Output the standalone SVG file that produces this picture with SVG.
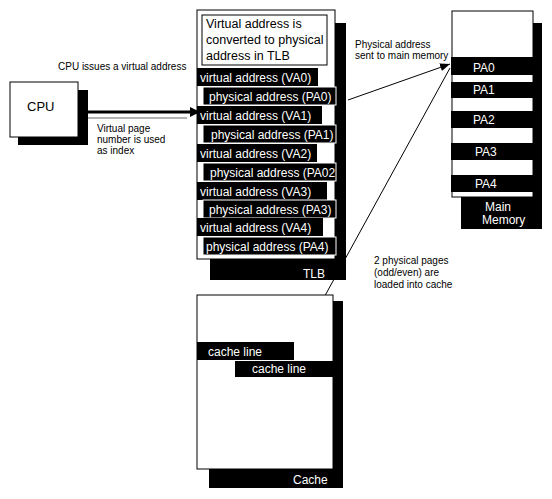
<svg xmlns="http://www.w3.org/2000/svg" width="552" height="499" viewBox="0 0 552 499">
<style>
text{font-family:"Liberation Sans",Arial,Helvetica,sans-serif;}
.shadow{fill:#000;}
.box{fill:#fff;stroke:#000;stroke-width:1;}
.va{fill:#000;}
.pa{fill:#000;stroke:#fff;stroke-width:1;}
.wt{fill:#fff;font-size:12px;}
.lbl{fill:#000;font-size:10px;}
.conn{stroke:#000;stroke-width:1;fill:none;}
</style>
<defs>
<marker id="ah" viewBox="0 0 10 10" refX="10" refY="5" markerWidth="10" markerHeight="10" markerUnits="userSpaceOnUse" orient="auto">
<path d="M0,1 L10,5 L0,9 z" fill="#000"/>
</marker>
<marker id="ahb" viewBox="0 0 10 10" refX="10" refY="5" markerWidth="13" markerHeight="10" markerUnits="userSpaceOnUse" orient="auto">
<path d="M0,0 L10,5 L0,10 z" fill="#000"/>
</marker>
</defs>
<rect width="552" height="499" fill="#fff"/>

<g id="connectors">
<line x1="67" y1="118" x2="187" y2="118" stroke="#b4b4b4" stroke-width="2"/>
<line x1="67" y1="112" x2="200" y2="112" stroke="#000" stroke-width="3" marker-end="url(#ahb)"/>
<line class="conn" x1="348" y1="100" x2="450" y2="64" marker-end="url(#ah)"/>
<line class="conn" x1="450" y1="68" x2="299" y2="343" marker-end="url(#ah)"/>
</g>

<g id="cpu">
<rect class="shadow" x="18" y="90" width="70" height="55"/>
<rect class="box" x="10" y="82" width="68" height="55"/>
<text x="27" y="111" font-size="13">CPU</text>
</g>

<g id="tlb">
<rect class="shadow" x="210" y="23" width="136" height="257"/>
<rect class="box" x="197" y="10" width="138" height="249"/>
<rect class="box" x="202" y="15" width="125" height="50"/>
<text x="206" y="28" font-size="12.5">Virtual address is</text>
<text x="206" y="44" font-size="12.5">converted to physical</text>
<text x="206" y="60" font-size="12.5">address in TLB</text>
<rect class="va" x="197" y="68" width="121" height="18"/>
<text class="wt" x="200" y="82">virtual address (VA0)</text>
<rect class="pa" x="203" y="87" width="133" height="18"/>
<text class="wt" x="209" y="101">physical address (PA0)</text>
<rect class="va" x="197" y="106" width="125" height="18"/>
<text class="wt" x="200" y="120">virtual address (VA1)</text>
<rect class="pa" x="203" y="125" width="133" height="18"/>
<text class="wt" x="211" y="139">physical address (PA1)</text>
<rect class="va" x="197" y="144" width="120" height="18"/>
<text class="wt" x="200" y="158">virtual address (VA2)</text>
<rect class="pa" x="203" y="163" width="133" height="18"/>
<text class="wt" x="210" y="177">physical address (PA02</text>
<rect class="va" x="197" y="182" width="130" height="18"/>
<text class="wt" x="200" y="196">virtual address (VA3)</text>
<rect class="pa" x="203" y="200" width="133" height="18"/>
<text class="wt" x="209" y="214">physical address (PA3)</text>
<rect class="va" x="197" y="218" width="126" height="18"/>
<text class="wt" x="200" y="232">virtual address (VA4)</text>
<rect class="pa" x="203" y="237" width="133" height="18"/>
<text class="wt" x="206" y="251">physical address (PA4)</text>
<text class="wt" x="303" y="278" font-size="12.5">TLB</text>
</g>

<g id="main-memory">
<rect class="shadow" x="461" y="23" width="81" height="206"/>
<rect class="box" x="452" y="11" width="81" height="186"/>
<rect class="va" x="451" y="57" width="91" height="18"/>
<rect class="va" x="451" y="82" width="91" height="16"/>
<rect class="va" x="451" y="111" width="91" height="17"/>
<rect class="va" x="451" y="143" width="91" height="17"/>
<rect class="va" x="451" y="175" width="91" height="17"/>
<text class="wt" x="473" y="72" font-size="11">PA0</text>
<text class="wt" x="473" y="94" font-size="11">PA1</text>
<text class="wt" x="473" y="124" font-size="11">PA2</text>
<text class="wt" x="475" y="156" font-size="11">PA3</text>
<text class="wt" x="475" y="188" font-size="11">PA4</text>
<text class="wt" x="485" y="211" font-size="10.5">Main</text>
<text class="wt" x="482" y="224" font-size="10.5">Memory</text>
</g>

<g id="cache">
<rect class="shadow" x="209" y="301" width="134" height="187"/>
<rect class="box" x="197" y="295" width="136" height="174"/>
<rect class="va" x="197" y="342" width="97" height="18"/>
<text class="wt" x="208" y="356" font-size="11.5">cache line</text>
<rect class="va" x="235" y="361" width="108" height="16"/>
<text class="wt" x="252" y="373" font-size="11.5">cache line</text>
<text class="wt" x="293" y="484" font-size="11.5">Cache</text>
</g>

<g id="labels">
<text class="lbl" x="58" y="70">CPU issues a virtual address</text>
<text class="lbl" x="97" y="132">Virtual page</text>
<text class="lbl" x="97" y="143">number is used</text>
<text class="lbl" x="97" y="154">as index</text>
<text class="lbl" x="355" y="48">Physical address</text>
<text class="lbl" x="355" y="59">sent to main memory</text>
<text class="lbl" x="374" y="264">2 physical pages</text>
<text class="lbl" x="374" y="276">(odd/even) are</text>
<text class="lbl" x="374" y="288">loaded into cache</text>
</g>
</svg>
